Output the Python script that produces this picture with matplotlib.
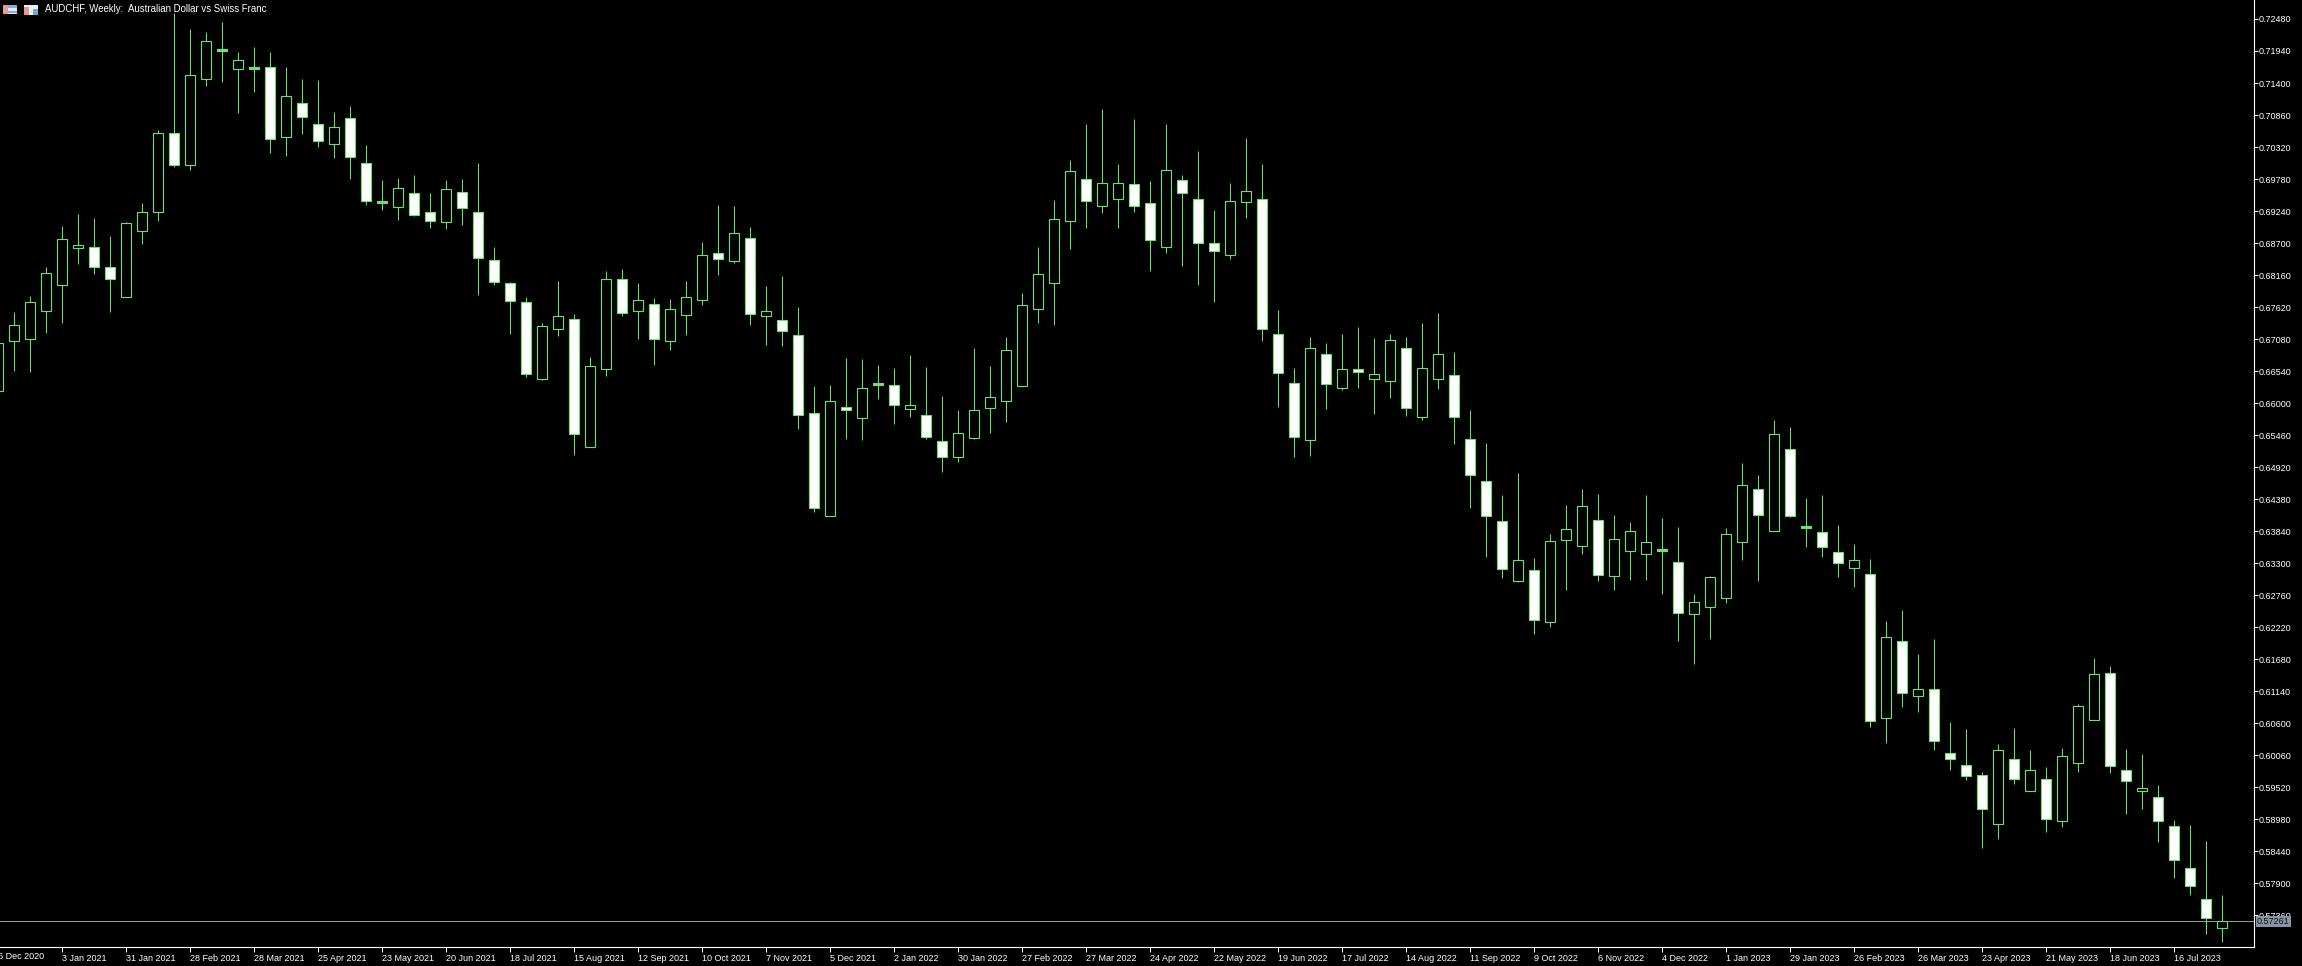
import matplotlib
matplotlib.use('Agg')
import matplotlib.pyplot as plt
from matplotlib.patches import Rectangle
from matplotlib.transforms import blended_transform_factory

plt.rcParams['font.family'] = ['Liberation Sans', 'DejaVu Sans']

# weekly bars, first one is the week of 6 Dec 2020
opens = [.66205, .67049, .67082, .67555, .67993, .68617, .68634, .68297, .67791, .68904,
         .69224, .70557, .70017, .71468, .71940, .71636, .71636, .71670, .70489, .71063,
         .70709, .70371, .70810, .70051, .69376, .69309, .69545, .69224, .69056, .69562,
         .69224, .68415, .68027, .67706, .66408, .67251, .67420, .65261, .66576, .68094,
         .67555, .67673, .67049, .67487, .67740, .68533, .68398, .68786, .67470, .67403,
         .67150, .65834, .64097, .65936, .65750, .66307, .66307, .65902, .65801, .65362,
         .65092, .65413, .65919, .66037, .66290, .67588, .68027, .69073, .69781, .69326,
         .69444, .69697, .69376, .68634, .69764, .69444, .68702, .68499, .69393, .69444,
         .67167, .66340, .65379, .66829, .66256, .66576, .66408, .66374, .66931, .65767,
         .66408, .66475, .65396, .64687, .64013, .63001, .63186, .62309, .63692, .63591,
         .64030, .63085, .63507, .63456, .63507, .63321, .62444, .62562, .62714, .63659,
         .64553, .63844, .65227, .63895, .63827, .63490, .63220, .63119, .60690, .61989,
         .61061, .61179, .60100, .59898, .59729, .58902, .59999, .59459, .59661, .58953,
         .59931, .60656, .61449, .59813, .59459, .59358, .58869, .58160, .57637, .57148]
closes = [.67015, .67319, .67706, .68196, .68769, .68668, .68297, .68094, .69039, .69224,
          .70557, .70017, .71535, .72108, .71974, .71788, .71670, .70456, .71181, .70827,
          .70422, .70658, .70152, .69410, .69410, .69629, .69174, .69073, .69612, .69292,
          .68449, .68044, .67723, .66492, .67302, .67470, .65480, .66627, .68094, .67521,
          .67740, .67082, .67588, .67791, .68499, .68432, .68870, .67504, .67555, .67217,
          .65801, .64232, .66037, .65885, .66256, .66340, .65969, .65969, .65430, .65092,
          .65497, .65885, .66104, .66897, .67656, .68179, .69106, .69916, .69410, .69714,
          .69714, .69326, .68752, .69933, .69545, .68702, .68567, .69410, .69579, .67251,
          .66509, .65430, .66931, .66323, .66576, .66526, .66492, .67066, .65919, .66593,
          .66829, .65767, .64789, .64097, .63203, .63355, .62343, .63676, .63878, .64266,
          .63102, .63709, .63844, .63659, .63541, .62461, .62647, .63068, .63794, .64620,
          .64114, .65480, .64097, .63928, .63574, .63304, .63355, .60640, .62056, .61112,
          .61179, .60302, .59999, .59712, .59155, .60150, .59661, .59813, .58987, .60049,
          .60893, .61432, .59881, .59628, .59510, .58953, .58295, .57857, .57317, .57261]
highs = [.67234, .67538, .67808, .68297, .68988, .69191, .69123, .68820, .69056, .69376,
         .70607, .72581, .72311, .72260, .72429, .71923, .72007, .71923, .71670, .71468,
         .71451, .70911, .71012, .70354, .69764, .69798, .69848, .69545, .69764, .69781,
         .70051, .68634, .68044, .67791, .67352, .68061, .67504, .66779, .68229, .68263,
         .68027, .67774, .67757, .68061, .68718, .69342, .69326, .68971, .67976, .68145,
         .67622, .66290, .66307, .66762, .66745, .66644, .66593, .66813, .66610, .66121,
         .65885, .66931, .66627, .67116, .67858, .68634, .69427, .70101, .70709, .70962,
         .70034, .70793, .69747, .70709, .69848, .70253, .69258, .69714, .70472, .70034,
         .67572, .66593, .67116, .67015, .67167, .67285, .67099, .67167, .67116, .67352,
         .67521, .66863, .65885, .65328, .64451, .64822, .63389, .63794, .64283, .64553,
         .64468, .64114, .63996, .64451, .64063, .63912, .62782, .63085, .63895, .64991,
         .64789, .65716, .65598, .64401, .64451, .63945, .63625, .63372, .62326, .62512,
         .61770, .62023, .60623, .60505, .59779, .60252, .60522, .60150, .59864, .60184,
         .60926, .61702, .61567, .60167, .60083, .59560, .58970, .58886, .58616, .57705]
lows = [.66189, .66543, .66526, .67184, .67352, .68347, .68179, .67538, .67791, .68685,
        .69073, .69983, .69933, .71350, .71417, .70894, .71248, .70220, .70169, .70540,
        .70321, .70135, .69781, .69342, .69258, .69089, .69157, .68955, .68938, .69005,
        .67825, .67993, .67167, .66442, .66391, .67133, .65126, .65261, .66458, .67470,
        .67082, .66644, .66897, .67150, .67656, .68162, .68364, .67319, .66981, .66964,
        .65565, .64165, .64097, .65396, .65379, .66070, .65649, .65767, .65396, .64839,
        .65008, .65396, .65497, .65683, .66273, .67352, .67319, .68600, .68955, .69208,
        .68955, .69224, .68229, .68533, .68314, .67993, .67706, .68432, .69123, .67049,
        .65936, .65092, .65109, .65902, .66222, .66256, .65817, .66087, .65784, .65716,
        .66239, .65311, .64232, .63406, .63051, .62984, .62107, .62225, .62849, .63456,
        .63001, .62849, .63018, .63018, .62782, .61989, .61601, .62023, .62630, .63355,
        .63001, .63844, .64080, .63574, .63406, .63068, .62900, .60538, .60269, .60876,
        .60791, .60150, .59813, .59645, .58498, .58649, .59577, .59459, .58767, .58852,
        .59779, .60656, .59763, .59071, .59155, .58599, .57992, .57705, .57047, .56912]

date_labels = ['6 Dec 2020', '3 Jan 2021', '31 Jan 2021', '28 Feb 2021', '28 Mar 2021',
               '25 Apr 2021', '23 May 2021', '20 Jun 2021', '18 Jul 2021', '15 Aug 2021',
               '12 Sep 2021', '10 Oct 2021', '7 Nov 2021', '5 Dec 2021', '2 Jan 2022',
               '30 Jan 2022', '27 Feb 2022', '27 Mar 2022', '24 Apr 2022', '22 May 2022',
               '19 Jun 2022', '17 Jul 2022', '14 Aug 2022', '11 Sep 2022', '9 Oct 2022',
               '6 Nov 2022', '4 Dec 2022', '1 Jan 2023', '29 Jan 2023', '26 Feb 2023',
               '26 Mar 2023', '23 Apr 2023', '21 May 2023', '18 Jun 2023', '16 Jul 2023']
price_ticks = [.72480, .71940, .71400, .70860, .70320, .69780, .69240, .68700, .68160, .67620,
               .67080, .66540, .66000, .65460, .64920, .64380, .63840, .63300, .62760, .62220,
               .61680, .61140, .60600, .60060, .59520, .58980, .58440, .57900, .57360]
last_price = 0.57261
title = 'AUDCHF, Weekly:  Australian Dollar vs Swiss Franc'

GREEN = '#6ee06e'
px = 0.72

fig = plt.figure(figsize=(23.02, 9.66), dpi=100, facecolor='black')
ax = fig.add_axes([0, 19 / 966, 2253.5 / 2302, 947 / 966], facecolor='black')

bars = list(range(len(opens)))
wicks = ax.vlines(bars, lows, highs, color=GREEN, lw=px, zorder=2)
wicks.set_snap(True)
for i in bars:
    bottom = min(opens[i], closes[i])
    height = abs(closes[i] - opens[i])
    up = closes[i] >= opens[i]
    fill = 'black' if up else 'white'
    if height < 0.0004:
        fill = GREEN
    ax.bar(i, height, bottom=bottom, width=0.62, facecolor=fill, edgecolor=GREEN,
           linewidth=px + 0.1, zorder=3)

ax.axhline(last_price, color='#9a9a9a', lw=px, zorder=1)

# bar 0 is centred just left of the picture edge
ax.set_xlim(1.67 / 16, (2253.5 + 1.67) / 16)
ax.set_ylim(0.56828, 0.72800)

for side in ('top', 'left'):
    ax.spines[side].set_visible(False)
for side in ('right', 'bottom'):
    ax.spines[side].set_color('white')
    ax.spines[side].set_linewidth(px + 0.1)

# first date sits just outside the view, so it gets a plain text
ax.set_xticks(bars[4::4][:len(date_labels) - 1])
ax.set_xticklabels(date_labels[1:], ha='left')
ax.tick_params(axis='x', colors='white', length=3.4, width=px, pad=1.5, labelsize=6.5)

trans = blended_transform_factory(ax.transData, fig.transFigure)
ax.text(-0.05, 9.5 / 966, date_labels[0], transform=trans, color='white', fontsize=6.5,
        ha='left', va='center', clip_on=False)

ax.yaxis.tick_right()
ax.set_yticks(price_ticks)
ax.set_yticklabels(['%.5f' % p for p in price_ticks])
ax.tick_params(axis='y', colors='white', length=3.2, width=px, pad=0.8, labelsize=6.5)

ax.annotate('%.5f' % last_price, xy=(1, last_price), xycoords=ax.get_yaxis_transform(),
            xytext=(3.5, 0), textcoords='offset pixels', color='#101010', fontsize=6.5,
            va='center', ha='left', zorder=10, annotation_clip=False,
            bbox=dict(boxstyle='square,pad=0.12', fc='#8794a6', ec='none'))

# toolbar icons in the corner
def icon(x, y, w, h, color):
    fig.add_artist(Rectangle((x / 2302, 1 - (y + h) / 966), w / 2302, h / 966,
                             transform=fig.transFigure, fc=color, ec='none'))

icon(3, 5, 14, 9, '#e8e8f0')
icon(3, 5, 5, 9, '#e89a90')
icon(8, 5, 9, 3, '#7fb0e0')
icon(8, 11, 9, 2, '#7fb0e0')
icon(24, 5, 14, 10, '#f0f0f0')
icon(24, 7, 5, 8, '#e09a90')
icon(33, 9, 5, 6, '#6fa8dc')

fig.text(45 / 2302, 1 - 9.5 / 966, title, color='white', fontsize=6.9, ha='left', va='center')

fig.savefig('out.png', dpi=100, facecolor='black')
